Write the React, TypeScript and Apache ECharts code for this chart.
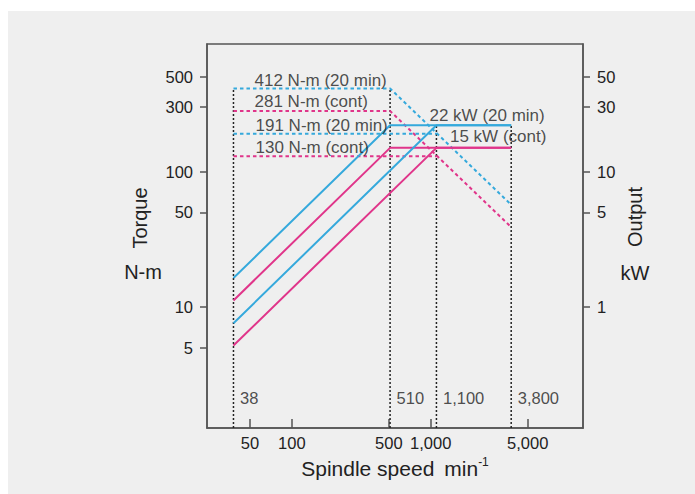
import React, { useEffect, useRef } from 'react';
import * as echarts from 'echarts';

// ---- data (raw values; plotted on log10 scales) ----
const speedMarks = [38, 510, 1100, 3800];
const speedMarkTopsTorque = [412, 412]; // 38, 510 (N-m, left axis)
const speedMarkTopsOutput = [22, 22]; // 1100, 3800 (kW, right axis)

const torque412Speeds = [38, 510, 3800];
const torque412Values = [412, 412, 57];
const torque281Speeds = [38, 510, 3800];
const torque281Values = [281, 281, 39];
const torque191Speeds = [38, 1100];
const torque191Values = [191, 191];
const torque130Speeds = [38, 1100];
const torque130Values = [130, 130];

const power412Speeds = [38, 510, 3800];
const power412Values = [1.64, 22, 22];
const power281Speeds = [38, 510, 3800];
const power281Values = [1.12, 15, 15];
const power191Speeds = [38, 1100, 3800];
const power191Values = [0.76, 22, 22];
const power130Speeds = [38, 1100, 3800];
const power130Values = [0.52, 15, 15];

const torqueLabelTexts = ['412 N-m (20 min)', '281 N-m (cont)', '191 N-m (20 min)', '130 N-m (cont)'];
const torqueLabelValues = [412, 281, 191, 130];
const outputLabelTexts = ['22 kW (20 min)', '15 kW (cont)'];
const outputLabelValues = [22, 15];

const xTicks = [50, 100, 500, 1000, 5000];
const leftTicks = [5, 10, 50, 100, 300, 500];
const rightTicks = [1, 5, 10, 30, 50];
const xRange = [24.5, 12500];
const torqueRange = [1.28, 877];
const outputRange = [0.128, 87.7];

const CYAN = '#35a9dc';
const MAGENTA = '#e0358a';
const AXIS = '#555555';
const TEXT = '#222222';
const FONT = '"Liberation Sans", Arial, Helvetica, sans-serif';

const L = Math.log10;
const pts = (xs: number[], ys: number[]) => xs.map((x, i) => [L(x), L(ys[i])]);
const fmt = (v: number) => Math.round(Math.pow(10, v)).toLocaleString('en-US');

export default function App() {
  const ref = useRef<HTMLDivElement>(null);

  useEffect(() => {
    if (!ref.current) return;
    const chart = echarts.init(ref.current, null, { renderer: 'svg' });

    const dashed = (color: string) => ({ color, width: 2, type: [3.5, 3] as number[] });
    const solid = (color: string) => ({ color, width: 2, type: 'solid' as const });
    const lineSeries = (data: number[][], yAxisIndex: number, lineStyle: any, z = 2) => ({
      type: 'line',
      data,
      yAxisIndex,
      symbol: 'none',
      silent: true,
      z,
      lineStyle,
    });

    const labelStyle = {
      show: true,
      position: 'right',
      distance: 5,
      formatter: '{b}',
      color: TEXT,
      fontSize: 17,
      fontFamily: FONT,
    };

    const torqueOffsets = [[16, -8], [16, -9], [17, -8.5], [17, -9]];
    const outputOffsets = [[-12, -10], [8.5, -11]];

    const option: any = {
      animation: false,
      backgroundColor: 'transparent',
      grid: {
        left: 199,
        top: 33,
        width: 376,
        height: 384,
        show: true,
        borderColor: AXIS,
        borderWidth: 1.5,
        backgroundColor: 'transparent',
      },
      xAxis: {
        type: 'value',
        position: 'bottom',
        min: L(xRange[0]),
        max: L(xRange[1]),
        splitLine: { show: false },
        axisLine: { show: true, onZero: false, lineStyle: { color: AXIS, width: 1.5 } },
        axisTick: {
          show: true,
          inside: true,
          length: 9,
          customValues: xTicks.map(L),
          lineStyle: { color: AXIS, width: 1.5 },
        },
        axisLabel: {
          customValues: xTicks.map(L),
          formatter: fmt,
          color: TEXT,
          fontSize: 16.5,
          fontFamily: FONT,
          margin: 6,
        },
        name: '{a|Spindle speed}{b|min}{c|-1}',
        nameLocation: 'middle',
        nameGap: 28,
        nameTextStyle: {
          rich: {
            a: { fontSize: 21, fontFamily: FONT, color: TEXT, lineHeight: 24 },
            b: { fontSize: 21, fontFamily: FONT, color: TEXT, lineHeight: 24, padding: [0, 0, 0, 10] },
            c: { fontSize: 12, fontFamily: FONT, color: TEXT, lineHeight: 14, verticalAlign: 'top' },
          },
        },
      },
      yAxis: [
        {
          type: 'value',
          position: 'left',
          min: L(torqueRange[0]),
          max: L(torqueRange[1]),
          splitLine: { show: false },
          axisLine: { show: true, onZero: false, lineStyle: { color: AXIS, width: 1.5 } },
          axisTick: {
            show: true,
            length: 7,
            customValues: leftTicks.map(L),
            lineStyle: { color: AXIS, width: 1.5 },
          },
          axisLabel: {
            customValues: leftTicks.map(L),
            formatter: fmt,
            color: TEXT,
            fontSize: 16.5,
            fontFamily: FONT,
            margin: 14,
          },
        },
        {
          type: 'value',
          position: 'right',
          min: L(outputRange[0]),
          max: L(outputRange[1]),
          splitLine: { show: false },
          axisLine: { show: true, onZero: false, lineStyle: { color: AXIS, width: 1.5 } },
          axisTick: {
            show: true,
            length: 7,
            customValues: rightTicks.map(L),
            lineStyle: { color: AXIS, width: 1.5 },
          },
          axisLabel: {
            customValues: rightTicks.map(L),
            formatter: fmt,
            color: TEXT,
            fontSize: 16.5,
            fontFamily: FONT,
            margin: 14,
          },
        },
      ],
      series: [
        // vertical dotted speed markers
        ...speedMarks.map((s, i) => {
          const onLeft = i < 2;
          const top = onLeft ? speedMarkTopsTorque[i] : speedMarkTopsOutput[i - 2];
          const bottom = onLeft ? torqueRange[0] : outputRange[0];
          return lineSeries(pts([s, s], [bottom, top]), onLeft ? 0 : 1, {
            color: '#222222',
            width: 1.5,
            type: [2, 2],
          }, 1);
        }),
        // torque (dashed)
        lineSeries(pts(torque412Speeds, torque412Values), 0, dashed(CYAN)),
        lineSeries(pts(torque281Speeds, torque281Values), 0, dashed(MAGENTA)),
        lineSeries(pts(torque191Speeds, torque191Values), 0, dashed(CYAN)),
        lineSeries(pts(torque130Speeds, torque130Values), 0, dashed(MAGENTA)),
        // output (solid)
        lineSeries(pts(power412Speeds, power412Values), 1, solid(CYAN), 3),
        lineSeries(pts(power281Speeds, power281Values), 1, solid(MAGENTA), 3),
        lineSeries(pts(power191Speeds, power191Values), 1, solid(CYAN), 3),
        lineSeries(pts(power130Speeds, power130Values), 1, solid(MAGENTA), 3),
        // torque labels
        {
          type: 'scatter',
          yAxisIndex: 0,
          symbolSize: 0.1,
          silent: true,
          z: 5,
          itemStyle: { color: 'transparent' },
          data: torqueLabelTexts.map((t, i) => ({
            name: t,
            value: [L(speedMarks[0]), L(torqueLabelValues[i])],
            label: { ...labelStyle, offset: torqueOffsets[i] },
          })),
        },
        // output labels
        {
          type: 'scatter',
          yAxisIndex: 1,
          symbolSize: 0.1,
          silent: true,
          z: 5,
          itemStyle: { color: 'transparent' },
          data: outputLabelTexts.map((t, i) => ({
            name: t,
            value: [L(speedMarks[2]), L(outputLabelValues[i])],
            label: { ...labelStyle, offset: outputOffsets[i] },
          })),
        },
        // speed labels
        {
          type: 'scatter',
          yAxisIndex: 0,
          symbolSize: 0.1,
          silent: true,
          z: 5,
          itemStyle: { color: 'transparent' },
          data: speedMarks.map((s) => ({
            name: s.toLocaleString('en-US'),
            value: [L(s), L(torqueRange[0])],
            label: { ...labelStyle, fontSize: 16.5, offset: [1.5, -30] },
          })),
        },
      ],
      graphic: [
        {
          type: 'text',
          x: 132,
          y: 207,
          rotation: Math.PI / 2,
          style: { text: 'Torque', fill: TEXT, font: `20px ${FONT}`, textAlign: 'center', textVerticalAlign: 'middle' },
        },
        {
          type: 'text',
          x: 135,
          y: 261,
          style: { text: 'N-m', fill: TEXT, font: `20px ${FONT}`, textAlign: 'center', textVerticalAlign: 'middle' },
        },
        {
          type: 'text',
          x: 627,
          y: 206,
          rotation: Math.PI / 2,
          style: { text: 'Output', fill: TEXT, font: `20px ${FONT}`, textAlign: 'center', textVerticalAlign: 'middle' },
        },
        {
          type: 'text',
          x: 627,
          y: 262,
          style: { text: 'kW', fill: TEXT, font: `20px ${FONT}`, textAlign: 'center', textVerticalAlign: 'middle' },
        },
      ],
    };

    chart.setOption(option);
    return () => chart.dispose();
  }, []);

  return (
    <div
      style={{
        position: 'absolute',
        left: 8,
        top: 11,
        width: 687,
        height: 483,
        background: '#efefef',
      }}
    >
      <div ref={ref} style={{ width: 687, height: 483 }} />
    </div>
  );
}
